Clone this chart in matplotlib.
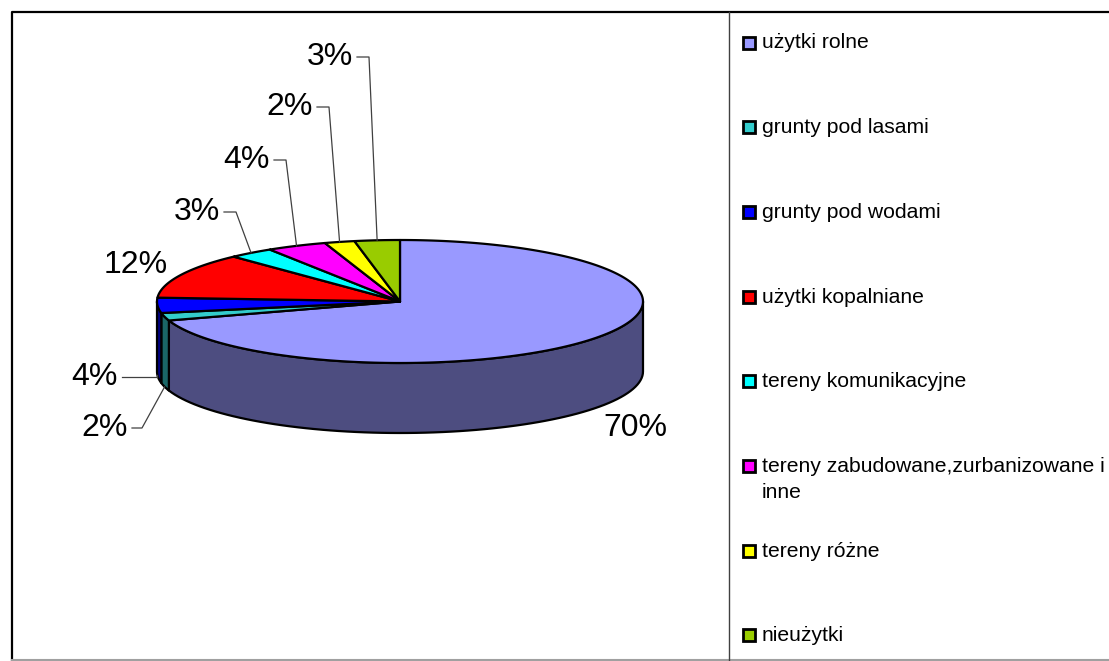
import numpy as np
import matplotlib.pyplot as plt
from matplotlib.patches import Polygon, Rectangle
from matplotlib.colors import to_rgb

plt.rcParams['font.family'] = ['Liberation Sans', 'DejaVu Sans']

# dane
kategorie = ['użytki rolne', 'grunty pod lasami', 'grunty pod wodami', 'użytki kopalniane',
             'tereny komunikacyjne', 'tereny zabudowane,zurbanizowane i\ninne',
             'tereny różne', 'nieużytki']
udzialy = [70, 2, 4, 12, 3, 4, 2, 3]
kolory = ['#9999FF', '#33CCCC', '#0000FF', '#FF0000', '#00FFFF', '#FF00FF', '#FFFF00', '#99CC00']
etykiety = [f'{u}%' for u in udzialy]

W, H = 1109, 661
fig = plt.figure(figsize=(W / 100, H / 100), dpi=100)
ax = fig.add_axes([0, 0, 1, 1])
ax.set_xlim(0, W)
ax.set_ylim(H, 0)
ax.axis('off')

# geometria tortu (piksele)
cx, cy, rx, ry, glebokosc = 400, 301.5, 243, 61.5, 70


def punkt(theta_deg, dy=0):
    t = np.radians(theta_deg)
    return cx + rx * np.cos(t), cy - ry * np.sin(t) + dy


def ciemniej(c, f=0.5):
    return tuple(v * f for v in to_rgb(c))


total = sum(udzialy)
granice = [90]
for u in udzialy:
    granice.append(granice[-1] - u / total * 360)

# boczne sciany (widoczny przod: kat -180..0)
for i, kol in enumerate(kolory):
    a0, a1 = granice[i + 1], granice[i]
    lo, hi = max(a0, -180), min(a1, 0)
    if lo >= hi:
        continue
    th = np.linspace(lo, hi, 80)
    xs, ys = punkt(th)
    pts = np.column_stack([np.r_[xs, xs[::-1]], np.r_[ys, ys[::-1] + glebokosc]])
    ax.add_patch(Polygon(pts, closed=True, facecolor=ciemniej(kol), edgecolor='black',
                         lw=1.6, joinstyle='round'))

# gorne powierzchnie
for i, kol in enumerate(kolory):
    a0, a1 = granice[i + 1], granice[i]
    th = np.linspace(a1, a0, 200)
    xs, ys = punkt(th)
    pts = np.column_stack([np.r_[cx, xs], np.r_[cy, ys]])
    ax.add_patch(Polygon(pts, closed=True, facecolor=kol, edgecolor='black',
                         lw=1.6, joinstyle='round'))

# etykiety procentowe (pozycja tekstu, wyrownanie)
poz_etykiet = [(635, 428, 'center'), (128, 428, 'right'), (118, 377, 'right'),
               (168, 265, 'right'), (220, 212, 'right'), (270, 160, 'right'),
               (313, 107, 'right'), (353, 57, 'right')]
for i, (tx, ty, ha) in enumerate(poz_etykiet):
    ax.text(tx, ty, etykiety[i], fontsize=23, ha=ha, va='center', color='black')
    if i in (0, 3):
        continue
    mid = (granice[i] + granice[i + 1]) / 2
    mx, my = punkt(mid, glebokosc if np.sin(np.radians(mid)) < 0 else 0)
    if np.sin(np.radians(mid)) < 0:
        kol_x = tx + 14 if i == 1 else mx
    else:
        kol_x = tx + 16
    ax.plot([tx + 4, kol_x, mx], [ty, ty, my], color='#404040', lw=0.9)

# ramka i legenda
ax.plot([11.5, 11.5, W + 5], [659.5, 12, 12], color='black', lw=1.6)
ax.plot([11.5, W + 5], [659.5, 659.5], color='#a0a0a0', lw=1.5)
ax.plot([729, 729], [12, H], color='#404040', lw=1.0)

leg_y0, leg_dy = 43, 84.7
for i, (nazwa, kol) in enumerate(zip(kategorie, kolory)):
    y = leg_y0 + i * leg_dy
    ax.add_patch(Rectangle((743, y - 6.5), 12, 12, facecolor=kol, edgecolor='black', lw=2))
    if '\n' in nazwa:
        ax.text(762, y - 9, nazwa, fontsize=15.2, ha='left', va='top',
                color='black', linespacing=1.45)
    else:
        ax.text(762, y, nazwa, fontsize=15.2, ha='left', va='center', color='black')

fig.savefig('out.png', dpi=100)
